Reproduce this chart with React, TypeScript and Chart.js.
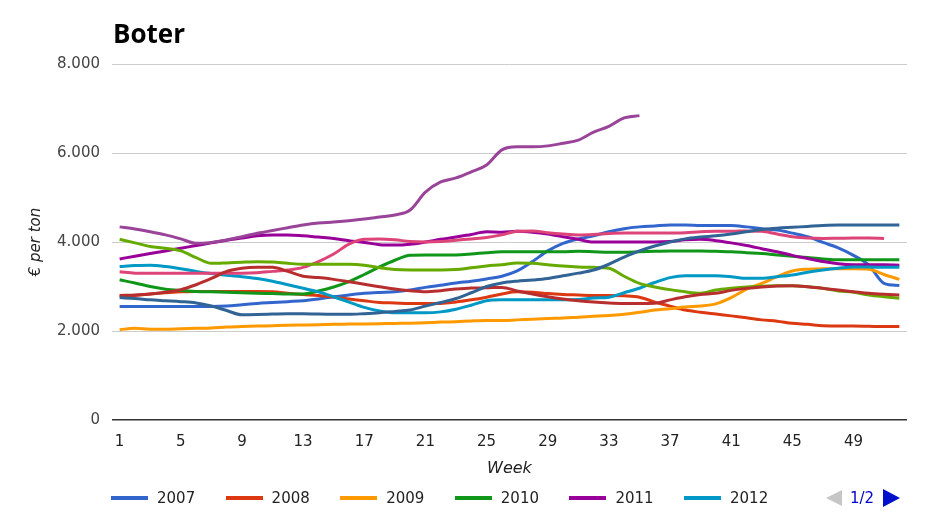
import React, { useEffect, useRef } from 'react';
import { Chart, registerables } from 'chart.js';

Chart.register(...registerables);

const weeks: string[] = Array.from({ length: 52 }, (_, i) => String(i + 1));
const seriesNames = ['2007', '2008', '2009', '2010', '2011', '2012', '2013', '2014', '2015', '2016', '2017'];
const colors = ['#3366cc', '#dc3912', '#ff9900', '#109618', '#990099', '#0099c6', '#dd4477', '#66aa00', '#b82e2e', '#316395', '#994499'];
const yTickLabels = ['0', '2.000', '4.000', '6.000', '8.000'];
const legendPage = '1/2';

const y2007 = [2550, 2550, 2550, 2550, 2550, 2550, 2550, 2560, 2590, 2620, 2640, 2660, 2680, 2720, 2770, 2810, 2846, 2866, 2880, 2920, 2980, 3030, 3080, 3120, 3170, 3230, 3350, 3560, 3800, 3970, 4070, 4140, 4230, 4300, 4340, 4360, 4380, 4380, 4370, 4370, 4370, 4340, 4300, 4270, 4200, 4120, 3990, 3870, 3700, 3480, 3070, 3020];
const y2008 = [2780, 2800, 2830, 2860, 2880, 2890, 2890, 2890, 2890, 2890, 2880, 2850, 2820, 2800, 2760, 2720, 2680, 2640, 2630, 2620, 2620, 2620, 2650, 2700, 2760, 2830, 2880, 2870, 2840, 2820, 2810, 2800, 2800, 2790, 2760, 2650, 2560, 2470, 2420, 2380, 2340, 2300, 2250, 2220, 2175, 2150, 2120, 2110, 2110, 2105, 2100, 2100];
const y2009 = [2030, 2060, 2040, 2040, 2050, 2060, 2070, 2090, 2100, 2110, 2120, 2130, 2135, 2140, 2150, 2155, 2160, 2165, 2170, 2175, 2185, 2200, 2210, 2225, 2235, 2235, 2250, 2265, 2280, 2290, 2310, 2330, 2350, 2375, 2420, 2470, 2500, 2540, 2560, 2610, 2750, 2940, 3070, 3220, 3350, 3390, 3400, 3400, 3400, 3390, 3270, 3160];
const y2010 = [3150, 3080, 3000, 2940, 2910, 2890, 2880, 2870, 2860, 2850, 2840, 2830, 2830, 2900, 2990, 3110, 3270, 3440, 3590, 3700, 3710, 3710, 3710, 3730, 3760, 3780, 3780, 3780, 3780, 3780, 3790, 3780, 3770, 3770, 3780, 3790, 3800, 3800, 3800, 3790, 3780, 3760, 3740, 3710, 3680, 3650, 3620, 3600, 3600, 3600, 3600, 3600];
const y2011 = [3620, 3680, 3740, 3800, 3860, 3920, 3980, 4040, 4090, 4140, 4160, 4160, 4140, 4110, 4080, 4030, 3990, 3940, 3930, 3950, 4000, 4060, 4110, 4170, 4230, 4220, 4240, 4220, 4180, 4120, 4060, 4000, 4000, 4000, 4000, 4000, 4010, 4050, 4060, 4030, 3980, 3920, 3850, 3780, 3700, 3630, 3560, 3510, 3490, 3490, 3490, 3480];
const y2012 = [3450, 3470, 3480, 3450, 3400, 3340, 3290, 3250, 3220, 3180, 3120, 3040, 2960, 2880, 2770, 2650, 2530, 2450, 2410, 2410, 2410, 2430, 2490, 2580, 2680, 2700, 2700, 2700, 2700, 2700, 2710, 2740, 2760, 2860, 2960, 3090, 3200, 3240, 3240, 3240, 3220, 3185, 3185, 3220, 3260, 3320, 3370, 3410, 3440, 3440, 3430, 3430];
const y2013 = [3330, 3300, 3300, 3300, 3300, 3300, 3300, 3300, 3300, 3310, 3340, 3370, 3430, 3560, 3730, 3950, 4060, 4070, 4050, 4010, 4000, 4010, 4040, 4070, 4100, 4160, 4240, 4250, 4210, 4180, 4160, 4170, 4190, 4200, 4200, 4200, 4200, 4210, 4230, 4240, 4240, 4250, 4240, 4180, 4120, 4090, 4080, 4085, 4090, 4090, 4080];
const y2014 = [4060, 3980, 3900, 3860, 3800, 3650, 3520, 3530, 3545, 3555, 3550, 3520, 3500, 3500, 3500, 3500, 3480, 3420, 3380, 3370, 3370, 3370, 3380, 3420, 3460, 3490, 3530, 3520, 3490, 3460, 3440, 3430, 3410, 3230, 3070, 2990, 2930, 2880, 2850, 2920, 2960, 2990, 3005, 3018, 3018, 2995, 2960, 2900, 2870, 2810, 2770, 2735];
const y2015 = [2800, 2810, 2830, 2870, 2930, 3040, 3180, 3340, 3410, 3430, 3430, 3340, 3230, 3200, 3160, 3108, 3050, 2996, 2943, 2906, 2883, 2906, 2943, 2966, 2970, 2980, 2900, 2830, 2770, 2720, 2680, 2650, 2630, 2620, 2620, 2625, 2700, 2770, 2820, 2846, 2913, 2958, 2990, 3010, 3018, 2996, 2958, 2920, 2883, 2846, 2824, 2809];
const y2016 = [2750, 2730, 2700, 2680, 2660, 2630, 2560, 2460, 2365, 2370, 2380, 2390, 2390, 2380, 2375, 2375, 2390, 2410, 2440, 2472, 2560, 2640, 2730, 2860, 3000, 3080, 3120, 3145, 3180, 3240, 3300, 3370, 3500, 3660, 3800, 3910, 4000, 4070, 4110, 4140, 4180, 4230, 4280, 4310, 4330, 4350, 4370, 4380, 4380, 4380, 4380, 4380];
const y2017 = [4340, 4290, 4230, 4160, 4070, 3970, 3990, 4045, 4120, 4195, 4260, 4320, 4380, 4425, 4450, 4480, 4516, 4561, 4606, 4719, 5120, 5350, 5440, 5575, 5730, 6070, 6140, 6140, 6160, 6220, 6290, 6470, 6600, 6790, 6840];

const FONT = "'DejaVu Sans', sans-serif";

export default function App() {
  const ref = useRef<HTMLCanvasElement>(null);

  useEffect(() => {
    const series = [y2007, y2008, y2009, y2010, y2011, y2012, y2013, y2014, y2015, y2016, y2017];
    const chart = new Chart(ref.current as HTMLCanvasElement, {
      type: 'line',
      data: {
        labels: weeks,
        datasets: series.map((d, i) => ({
          label: seriesNames[i],
          data: d,
          borderColor: colors[i],
          backgroundColor: colors[i],
          borderWidth: 3,
          pointRadius: 0,
          pointHoverRadius: 0,
          fill: false,
          tension: 0.4,
          cubicInterpolationMode: 'monotone' as const,
          order: -i,
        })),
      },
      options: {
        responsive: false,
        animation: false,
        events: [],
        layout: { padding: { top: 64, right: 38, bottom: 50, left: 0 } },
        plugins: {
          legend: { display: false },
          title: { display: false },
          tooltip: { enabled: false },
        },
        scales: {
          x: {
            type: 'category',
            offset: true,
            grid: { display: false, drawTicks: false },
            border: { display: false },
            ticks: {
              autoSkip: false,
              maxRotation: 0,
              minRotation: 0,
              padding: 13,
              color: '#222',
              font: { family: FONT, size: 15 },
              callback: (_v: any, i: number) => (i % 4 === 0 ? weeks[i] : ''),
            },
            title: {
              display: true,
              text: 'Week',
              color: '#222',
              font: { family: FONT, size: 16, style: 'italic' },
              padding: { top: 0, bottom: 0 },
            },
            afterFit: (scale: any) => {
              scale.height = 58;
            },
          },
          y: {
            min: 0,
            max: 8000,
            ticks: {
              stepSize: 2000,
              padding: 12,
              color: '#444',
              font: { family: FONT, size: 15 },
              callback: (_v: any, i: number) => yTickLabels[i],
            },
            grid: {
              drawTicks: false,
              color: (ctx: any) => (ctx.tick && ctx.tick.value === 0 ? '#333' : '#cccccc'),
              lineWidth: (ctx: any) => (ctx.tick && ctx.tick.value === 0 ? 1.5 : 1),
            },
            border: { display: false },
            title: {
              display: true,
              text: '€ per ton',
              color: '#222',
              font: { family: FONT, size: 15, style: 'italic' },
              padding: { top: 27, bottom: 0 },
            },
            afterFit: (scale: any) => {
              scale.width = 112;
            },
          },
        },
      },
    } as any);
    return () => chart.destroy();
  }, []);

  const legendItems = seriesNames.slice(0, 6);

  return (
    <div style={{ position: 'fixed', left: 0, top: 0, width: 945, height: 528, background: '#fff', overflow: 'hidden' }}>
      <canvas ref={ref} width={945} height={528} style={{ position: 'absolute', left: 0, top: 0, width: 945, height: 528 }} />
      <div
        style={{
          position: 'absolute',
          left: 113,
          top: 20,
          fontFamily: "'Open Sans', sans-serif",
          fontWeight: 700,
          fontSize: 26,
          lineHeight: '26px',
          color: '#000',
        }}
      >
        Boter
      </div>
      {legendItems.map((name, i) => (
        <div
          key={name}
          style={{
            position: 'absolute',
            left: 111 + i * 114.6,
            top: 488,
            height: 20,
            display: 'flex',
            alignItems: 'center',
            fontFamily: FONT,
            fontSize: 15,
            color: '#222',
          }}
        >
          <span style={{ display: 'inline-block', width: 37, height: 4, background: colors[i], marginRight: 9 }} />
          <span>{name}</span>
        </div>
      ))}
      <div style={{ position: 'absolute', left: 826, top: 488, height: 20, display: 'flex', alignItems: 'center', fontFamily: FONT, fontSize: 15 }}>
        <span style={{ display: 'inline-block', width: 0, height: 0, borderTop: '8px solid transparent', borderBottom: '8px solid transparent', borderRight: '16px solid #c6c6c6', marginRight: 8 }} />
        <span style={{ color: '#0000cc' }}>{legendPage}</span>
        <span style={{ display: 'inline-block', width: 0, height: 0, borderTop: '9px solid transparent', borderBottom: '9px solid transparent', borderLeft: '17px solid #0011cc', marginLeft: 9 }} />
      </div>
    </div>
  );
}
